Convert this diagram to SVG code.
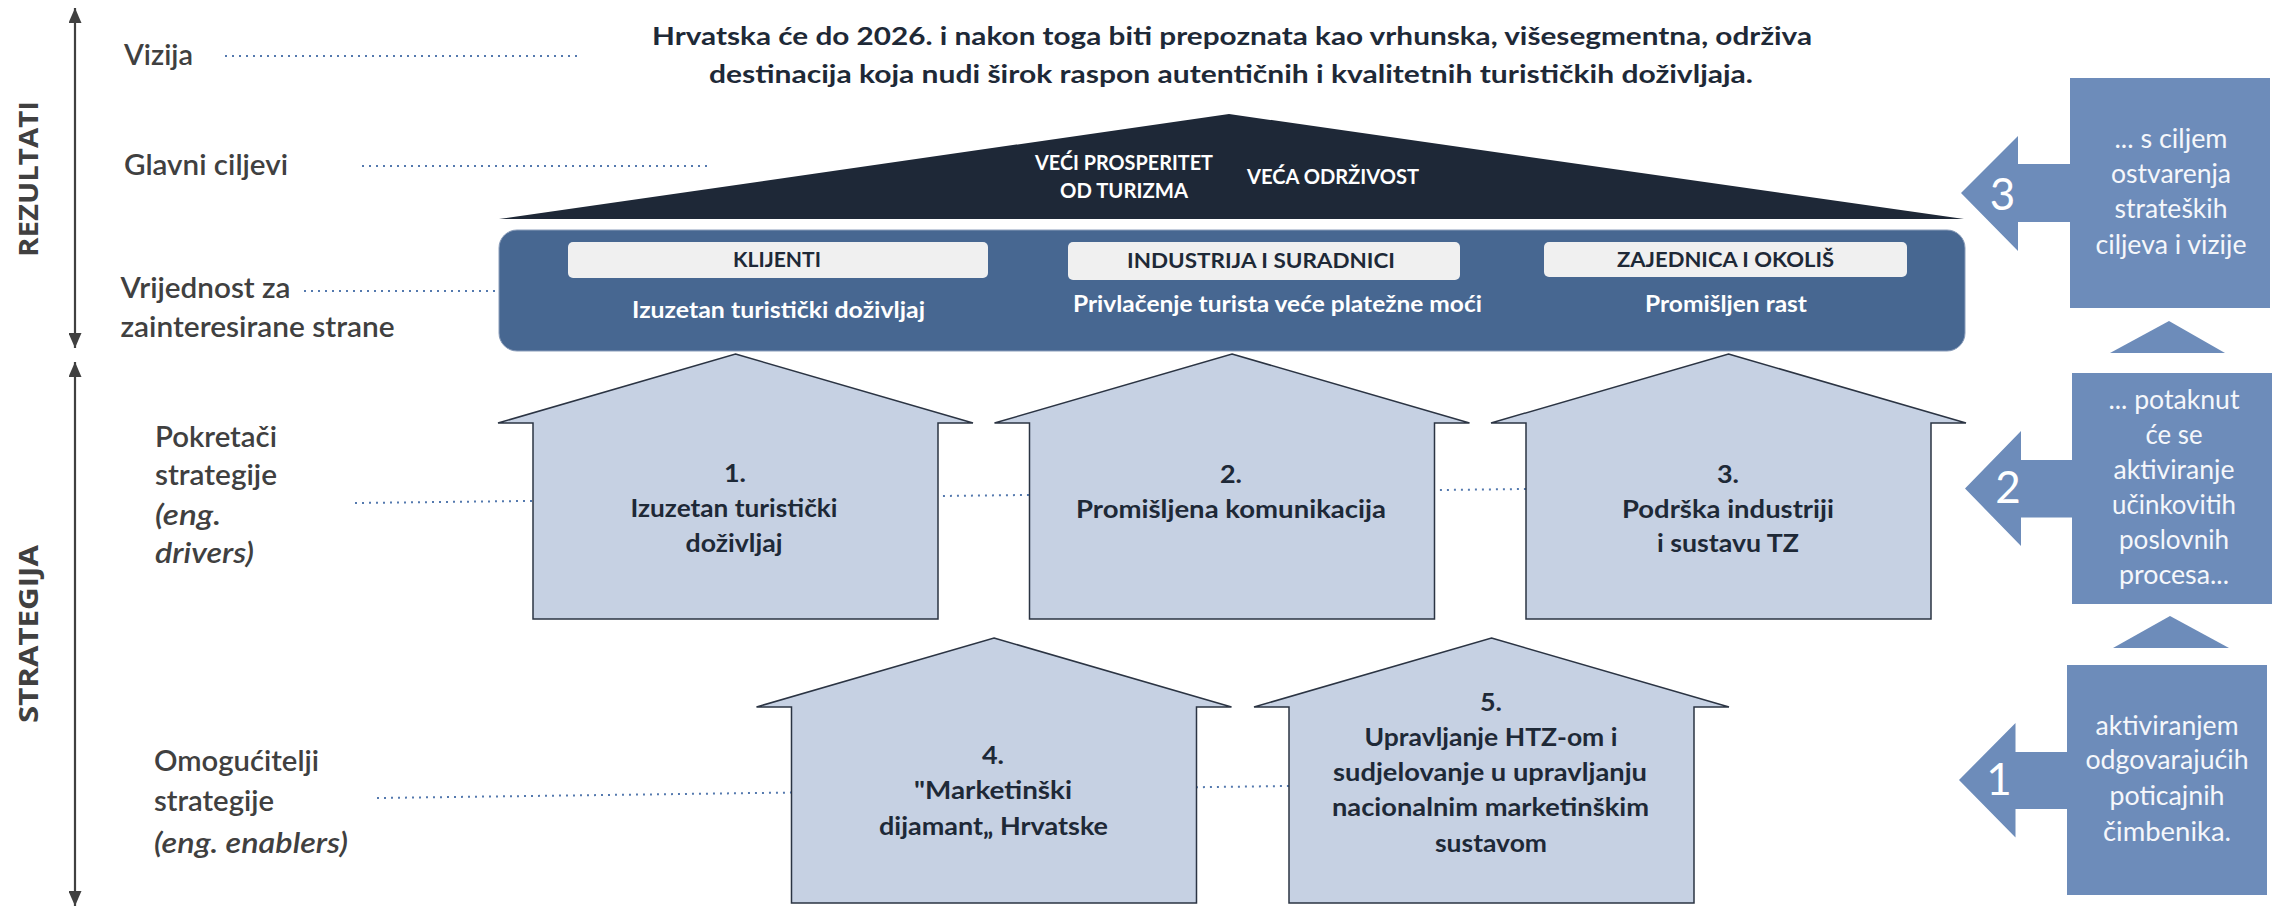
<svg xmlns="http://www.w3.org/2000/svg" width="2275" height="908" viewBox="0 0 2275 908">
  <style>
    text { font-family: Lato, "Open Sans", "Liberation Sans", sans-serif; }
    .lbl { font-size: 28px; font-weight: 600; fill: #404040; }
    .it { font-style: italic; }
    .axis { font-family: "Open Sans", "Liberation Sans", sans-serif; font-weight: 700; font-size: 26px; fill: #404040; }
    .title { font-size: 25px; font-weight: 700; fill: #1e2937; }
    .roof-t { font-size: 21px; font-weight: 700; fill: #ffffff; }
    .tag { font-size: 21px; font-weight: 700; fill: #1e2937; }
    .sub { font-size: 23px; font-weight: 700; fill: #ffffff; }
    .ht { font-size: 24px; font-weight: 700; fill: #1e2937; }
    .pt { font-size: 26px; fill: #f5f7fb; }
    .num { font-size: 44px; font-weight: 400; fill: #ffffff; }
    .dots { stroke: #5479ae; stroke-width: 2; stroke-dasharray: 2 5; fill: none; }
    .axis-line { stroke: #404040; stroke-width: 2.2; fill: none; }
    .house { fill: #c6d1e3; stroke: #2b3443; stroke-width: 1.5; }
    .panel { fill: #6d8cba; }
  </style>
  <defs>
    <marker id="axis-head" viewBox="0 0 15 13" refX="15" refY="6.5" markerWidth="15" markerHeight="13" markerUnits="userSpaceOnUse" orient="auto-start-reverse">
      <path d="M0,0 L15,6.5 L0,13 Z" fill="#404040"/>
    </marker>
    <!-- house outline, apex at origin -->
    <path id="house-shape" d="M0,0 L237.5,69 L202.5,69 L202.5,265 L-202.5,265 L-202.5,69 L-237.5,69 Z"/>
  </defs>

  <rect width="2275" height="908" fill="#ffffff"/>

  <!-- level axes -->
  <g id="axes">
    <line class="axis-line" x1="75" y1="8" x2="75" y2="348" marker-start="url(#axis-head)" marker-end="url(#axis-head)"/>
    <line class="axis-line" x1="75" y1="362" x2="75" y2="906" marker-start="url(#axis-head)" marker-end="url(#axis-head)"/>
    <text class="axis" transform="translate(38,179) rotate(-90)" text-anchor="middle" textLength="156" lengthAdjust="spacingAndGlyphs">REZULTATI</text>
    <text class="axis" transform="translate(38,634) rotate(-90)" text-anchor="middle" textLength="178" lengthAdjust="spacingAndGlyphs">STRATEGIJA</text>
  </g>

  <!-- dotted leader lines -->
  <g id="connectors">
    <line class="dots" x1="225" y1="56" x2="580" y2="56"/>
    <line class="dots" x1="362" y1="166" x2="707" y2="166"/>
    <line class="dots" x1="304" y1="291" x2="495" y2="291"/>
    <line class="dots" x1="355" y1="503" x2="1527" y2="489"/>
    <line class="dots" x1="377" y1="798" x2="1289" y2="786"/>
  </g>

  <!-- row labels -->
  <g id="labels">
    <text class="lbl" x="124" y="65" textLength="69" lengthAdjust="spacingAndGlyphs">Vizija</text>
    <text class="lbl" x="124" y="175" textLength="164" lengthAdjust="spacingAndGlyphs">Glavni ciljevi</text>
    <text class="lbl" x="120.5" y="298" textLength="170" lengthAdjust="spacingAndGlyphs">Vrijednost za</text>
    <text class="lbl" x="120.5" y="337" textLength="274" lengthAdjust="spacingAndGlyphs">zainteresirane strane</text>
    <text class="lbl" x="155" y="447" textLength="122" lengthAdjust="spacingAndGlyphs">Pokretači</text>
    <text class="lbl" x="155" y="485" textLength="122" lengthAdjust="spacingAndGlyphs">strategije</text>
    <text class="lbl it" x="155" y="525" textLength="66" lengthAdjust="spacingAndGlyphs">(eng.</text>
    <text class="lbl it" x="155" y="563" textLength="99" lengthAdjust="spacingAndGlyphs">drivers)</text>
    <text class="lbl" x="154" y="771" textLength="165" lengthAdjust="spacingAndGlyphs">Omogućitelji</text>
    <text class="lbl" x="154" y="811" textLength="120" lengthAdjust="spacingAndGlyphs">strategije</text>
    <text class="lbl it" x="154" y="853" textLength="194" lengthAdjust="spacingAndGlyphs">(eng. enablers)</text>
  </g>

  <!-- vision statement -->
  <g id="vision">
    <text class="title" x="1232" y="45" text-anchor="middle" textLength="1160" lengthAdjust="spacingAndGlyphs">Hrvatska će do 2026. i nakon toga biti prepoznata kao vrhunska, višesegmentna, održiva</text>
    <text class="title" x="1231" y="83" text-anchor="middle" textLength="1044" lengthAdjust="spacingAndGlyphs">destinacija koja nudi širok raspon autentičnih i kvalitetnih turističkih doživljaja.</text>
  </g>

  <!-- main goals roof -->
  <g id="goals">
    <polygon points="499,219 1229,114 1964,219" fill="#1e2837"/>
    <text class="roof-t" x="1124" y="170" text-anchor="middle" textLength="178" lengthAdjust="spacingAndGlyphs">VEĆI PROSPERITET</text>
    <text class="roof-t" x="1124" y="198" text-anchor="middle" textLength="128" lengthAdjust="spacingAndGlyphs">OD TURIZMA</text>
    <text class="roof-t" x="1333" y="184" text-anchor="middle" textLength="172" lengthAdjust="spacingAndGlyphs">VEĆA ODRŽIVOST</text>
  </g>

  <!-- stakeholder value band -->
  <g id="stakeholders">
    <rect x="499" y="230" width="1466" height="121" rx="18" fill="#476791" stroke="#8a9dba" stroke-width="1"/>
    <g id="stakeholder-clients">
      <rect x="568" y="242" width="420" height="36" rx="5" fill="#f0f0f0"/>
      <text class="tag" x="777" y="267" text-anchor="middle" textLength="88" lengthAdjust="spacingAndGlyphs">KLIJENTI</text>
      <text class="sub" x="778.5" y="318" text-anchor="middle" textLength="293" lengthAdjust="spacingAndGlyphs">Izuzetan turistički doživljaj</text>
    </g>
    <g id="stakeholder-industry">
      <rect x="1068" y="242" width="392" height="38" rx="5" fill="#f0f0f0"/>
      <text class="tag" x="1261" y="268" text-anchor="middle" textLength="268" lengthAdjust="spacingAndGlyphs">INDUSTRIJA I SURADNICI</text>
      <text class="sub" x="1277.5" y="312" text-anchor="middle" textLength="409" lengthAdjust="spacingAndGlyphs">Privlačenje turista veće platežne moći</text>
    </g>
    <g id="stakeholder-community">
      <rect x="1544" y="242" width="363" height="35" rx="5" fill="#f0f0f0"/>
      <text class="tag" x="1725.5" y="267" text-anchor="middle" textLength="217" lengthAdjust="spacingAndGlyphs">ZAJEDNICA I OKOLIŠ</text>
      <text class="sub" x="1726" y="312" text-anchor="middle" textLength="162" lengthAdjust="spacingAndGlyphs">Promišljen rast</text>
    </g>
  </g>

  <!-- strategy drivers -->
  <g id="driver-1">
    <use href="#house-shape" class="house" x="735.5" y="354"/>
    <text class="ht" x="735" y="482" text-anchor="middle" textLength="22" lengthAdjust="spacingAndGlyphs">1.</text>
    <text class="ht" x="734" y="517" text-anchor="middle" textLength="207" lengthAdjust="spacingAndGlyphs">Izuzetan turistički</text>
    <text class="ht" x="734" y="552" text-anchor="middle" textLength="97" lengthAdjust="spacingAndGlyphs">doživljaj</text>
  </g>
  <g id="driver-2">
    <use href="#house-shape" class="house" x="1232" y="354"/>
    <text class="ht" x="1231" y="483" text-anchor="middle" textLength="22" lengthAdjust="spacingAndGlyphs">2.</text>
    <text class="ht" x="1231" y="517.5" text-anchor="middle" textLength="310" lengthAdjust="spacingAndGlyphs">Promišljena komunikacija</text>
  </g>
  <g id="driver-3">
    <use href="#house-shape" class="house" x="1728.5" y="354"/>
    <text class="ht" x="1728" y="483" text-anchor="middle" textLength="22" lengthAdjust="spacingAndGlyphs">3.</text>
    <text class="ht" x="1728" y="517.5" text-anchor="middle" textLength="212" lengthAdjust="spacingAndGlyphs">Podrška industriji</text>
    <text class="ht" x="1728" y="552" text-anchor="middle" textLength="142" lengthAdjust="spacingAndGlyphs">i sustavu TZ</text>
  </g>

  <!-- strategy enablers -->
  <g id="enabler-4">
    <use href="#house-shape" class="house" x="994" y="638"/>
    <text class="ht" x="993" y="764" text-anchor="middle" textLength="22" lengthAdjust="spacingAndGlyphs">4.</text>
    <text class="ht" x="993" y="799" text-anchor="middle" textLength="158" lengthAdjust="spacingAndGlyphs">"Marketinški</text>
    <text class="ht" x="993.5" y="834.5" text-anchor="middle" textLength="229" lengthAdjust="spacingAndGlyphs">dijamant„ Hrvatske</text>
  </g>
  <g id="enabler-5">
    <use href="#house-shape" class="house" x="1491.5" y="638"/>
    <text class="ht" x="1491" y="711" text-anchor="middle" textLength="22" lengthAdjust="spacingAndGlyphs">5.</text>
    <text class="ht" x="1491" y="746" text-anchor="middle" textLength="253" lengthAdjust="spacingAndGlyphs">Upravljanje HTZ-om i</text>
    <text class="ht" x="1490" y="781" text-anchor="middle" textLength="314" lengthAdjust="spacingAndGlyphs">sudjelovanje u upravljanju</text>
    <text class="ht" x="1490.5" y="816" text-anchor="middle" textLength="317" lengthAdjust="spacingAndGlyphs">nacionalnim marketinškim</text>
    <text class="ht" x="1491" y="852" text-anchor="middle" textLength="112" lengthAdjust="spacingAndGlyphs">sustavom</text>
  </g>

  <!-- logic steps on the right -->
  <g id="step-3">
    <path class="panel" d="M1961,193 L2018,136 L2018,164 L2070,164 L2070,78 L2270,78 L2270,308 L2070,308 L2070,222 L2018,222 L2018,251 Z"/>
    <text class="num" x="2002.5" y="210" text-anchor="middle">3</text>
    <text class="pt" x="2171" y="148" text-anchor="middle" textLength="113" lengthAdjust="spacingAndGlyphs">... s ciljem</text>
    <text class="pt" x="2171" y="183" text-anchor="middle" textLength="120" lengthAdjust="spacingAndGlyphs">ostvarenja</text>
    <text class="pt" x="2171" y="218" text-anchor="middle" textLength="113" lengthAdjust="spacingAndGlyphs">strateških</text>
    <text class="pt" x="2171" y="254" text-anchor="middle" textLength="151" lengthAdjust="spacingAndGlyphs">ciljeva i vizije</text>
  </g>
  <path id="step-link-2-3" class="panel" d="M2169,321 L2225,353 L2110,353 Z"/>
  <g id="step-2">
    <path class="panel" d="M1965,488.5 L2021,431 L2021,460 L2072,460 L2072,373 L2272,373 L2272,604 L2072,604 L2072,517.5 L2021,517.5 L2021,546 Z"/>
    <text class="num" x="2008" y="503" text-anchor="middle">2</text>
    <text class="pt" x="2174" y="409" text-anchor="middle" textLength="131" lengthAdjust="spacingAndGlyphs">... potaknut</text>
    <text class="pt" x="2174" y="444" text-anchor="middle" textLength="57" lengthAdjust="spacingAndGlyphs">će se</text>
    <text class="pt" x="2174" y="479" text-anchor="middle" textLength="121" lengthAdjust="spacingAndGlyphs">aktiviranje</text>
    <text class="pt" x="2174" y="514" text-anchor="middle" textLength="124" lengthAdjust="spacingAndGlyphs">učinkovitih</text>
    <text class="pt" x="2174" y="549" text-anchor="middle" textLength="110" lengthAdjust="spacingAndGlyphs">poslovnih</text>
    <text class="pt" x="2174" y="584" text-anchor="middle" textLength="110" lengthAdjust="spacingAndGlyphs">procesa...</text>
  </g>
  <path id="step-link-1-2" class="panel" d="M2170,616 L2229,648 L2113,648 Z"/>
  <g id="step-1">
    <path class="panel" d="M1959,780 L2015.5,723 L2015.5,752 L2067,752 L2067,665 L2267,665 L2267,895 L2067,895 L2067,809 L2015.5,809 L2015.5,837.5 Z"/>
    <text class="num" x="1999" y="795" text-anchor="middle">1</text>
    <text class="pt" x="2167" y="735" text-anchor="middle" textLength="143" lengthAdjust="spacingAndGlyphs">aktiviranjem</text>
    <text class="pt" x="2167" y="769" text-anchor="middle" textLength="163" lengthAdjust="spacingAndGlyphs">odgovarajućih</text>
    <text class="pt" x="2167" y="805" text-anchor="middle" textLength="115" lengthAdjust="spacingAndGlyphs">poticajnih</text>
    <text class="pt" x="2167" y="841" text-anchor="middle" textLength="128" lengthAdjust="spacingAndGlyphs">čimbenika.</text>
  </g>
</svg>
